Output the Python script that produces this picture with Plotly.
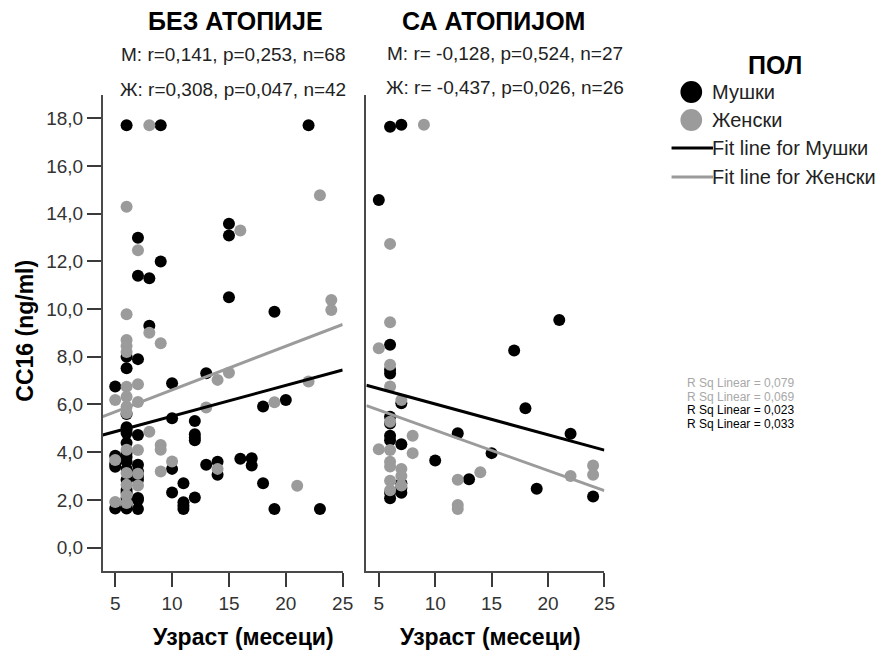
import numpy as np
import plotly.graph_objects as go

W, H = 885, 652

# ---- data: age (months) and CC16 (ng/ml) per group and panel ----
# panel 1: без атопије
no_atopy_m_age = [6, 9, 22, 15, 15, 7, 9, 7, 8, 15, 19, 8, 6, 6, 7, 5, 10, 13, 18, 20,
                  10, 12, 6, 6, 7, 12, 12, 6, 6, 6, 5, 5, 7, 7, 7, 10, 13, 14, 14, 16,
                  17, 17, 18, 11, 10, 12, 11, 11, 7, 7, 5, 19, 23, 6, 6, 6, 6, 6, 6,
                  6, 6, 7, 6, 7, 5, 12, 11, 6]
no_atopy_m_cc16 = [17.7, 17.7, 17.7, 13.57, 13.08, 12.99, 11.99, 11.39, 11.29, 10.49, 9.89,
                   9.30, 8.0, 7.52, 7.9, 6.75, 6.89, 7.31, 5.91, 6.19, 5.42, 5.31, 5.05,
                   4.8, 4.72, 4.75, 4.5, 4.39, 3.97, 3.6, 3.85, 3.39, 3.47, 3.2, 2.84,
                   3.30, 3.47, 3.6, 3.05, 3.72, 3.75, 3.44, 2.7, 2.7, 2.31, 2.1, 1.9,
                   1.62, 2.08, 1.62, 1.64, 1.62, 1.62, 1.64, 2.08, 2.42, 2.84, 5.6, 3.3,
                   4.95, 2.3, 3.0, 1.8, 2.0, 3.5, 4.6, 1.75, 3.8]
no_atopy_f_age = [8, 6, 23, 16, 7, 24, 24, 6, 8, 9, 6, 6, 6, 6, 6, 7, 14, 15, 22, 5,
                  7, 6, 6, 19, 13, 8, 9, 9, 7, 5, 6, 10, 9, 14, 21, 5, 6, 6, 6, 6, 7, 7]
no_atopy_f_cc16 = [17.7, 14.29, 14.77, 13.29, 12.46, 10.38, 9.96, 9.78, 9.01, 8.57, 8.7,
                   8.45, 8.2, 6.74, 6.32, 6.85, 7.03, 7.33, 6.96, 6.19, 6.1, 5.9, 5.64,
                   6.09, 5.87, 4.86, 4.3, 4.1, 4.09, 3.67, 4.1, 3.61, 3.19, 3.3, 2.59,
                   1.91, 1.87, 2.2, 2.63, 3.13, 3.1, 2.6]

# panel 2: са атопијом
atopy_m_age = [6, 7, 5, 21, 6, 17, 6, 7, 18, 6, 6, 22, 12, 7, 15, 10, 7, 13, 19, 24, 6,
               6, 6, 7, 6, 6, 7]
atopy_m_cc16 = [17.64, 17.72, 14.57, 9.54, 8.5, 8.26, 7.45, 6.05, 5.84, 5.49, 4.69, 4.77,
                4.79, 4.33, 3.96, 3.65, 2.5, 2.87, 2.47, 2.14, 2.07, 5.2, 2.3, 2.7, 4.5,
                7.3, 2.3]
atopy_f_age = [9, 6, 6, 5, 6, 6, 7, 6, 8, 5, 6, 8, 6, 6, 7, 7, 7, 14, 12, 6, 22, 24, 24,
               6, 12, 12]
atopy_f_cc16 = [17.72, 12.73, 9.45, 8.36, 7.66, 6.75, 6.19, 5.28, 4.69, 4.12, 4.09, 3.96,
                3.6, 3.4, 3.3, 3.0, 2.6, 3.16, 2.84, 2.8, 3.0, 3.44, 3.05, 2.4, 1.79, 1.62]

# linear fits (intercept, slope) for Мушки / Женски in each panel
fit_no_atopy_m = (4.22, 0.129)
fit_no_atopy_f = (4.78, 0.183)
fit_atopy_m = (7.31, -0.129)
fit_atopy_f = (6.61, -0.169)

panel_titles = ["БЕЗ АТОПИЈЕ", "СА АТОПИЈОМ"]
stats_m = ["M: r=0,141, p=0,253, n=68", "M: r= -0,128, p=0,524, n=27"]
stats_f = ["Ж: r=0,308, p=0,047, n=42", "Ж: r= -0,437, p=0,026, n=26"]
rsq_labels = ["R Sq Linear = 0,079", "R Sq Linear = 0,069",
              "R Sq Linear = 0,023", "R Sq Linear = 0,033"]
group_names = ["Мушки", "Женски"]

X_RANGE = [3.9, 25.0]
Y_RANGE = [-0.98, 18.97]
y_ticks = [0, 2, 4, 6, 8, 10, 12, 14, 16, 18]
x_ticks = [5, 10, 15, 20, 25]

BLACK = "#000000"
GRAY = "#9b9b9b"
FONT = "Liberation Sans"


def px(x):
    return x / W


def py(y):
    return 1 - y / H


fig = go.Figure()

panels = [
    ("x", "y", no_atopy_m_age, no_atopy_m_cc16, no_atopy_f_age, no_atopy_f_cc16,
     fit_no_atopy_m, fit_no_atopy_f),
    ("x2", "y2", atopy_m_age, atopy_m_cc16, atopy_f_age, atopy_f_cc16,
     fit_atopy_m, fit_atopy_f),
]

for xa, ya, m_age, m_val, f_age, f_val, fit_m, fit_f in panels:
    fig.add_trace(go.Scatter(x=m_age, y=m_val, mode="markers", xaxis=xa, yaxis=ya,
                             marker=dict(color=BLACK, size=12, line=dict(width=0)),
                             showlegend=False))
    fig.add_trace(go.Scatter(x=f_age, y=f_val, mode="markers", xaxis=xa, yaxis=ya,
                             marker=dict(color=GRAY, size=12, line=dict(width=0)),
                             showlegend=False))
    xs = np.array(X_RANGE)
    for (b0, b1), col in ((fit_f, GRAY), (fit_m, BLACK)):
        fig.add_trace(go.Scatter(x=xs, y=b0 + b1 * xs, mode="lines", xaxis=xa, yaxis=ya,
                                 line=dict(color=col, width=3), showlegend=False))

axis_common = dict(showline=True, linecolor="#4a4a4a", linewidth=1.5, showgrid=False,
                   zeroline=False, ticks="outside", ticklen=14, tickwidth=2,
                   tickcolor="#3a3a3a",
                   tickfont=dict(family=FONT, size=19, color="#333333"))

fig.update_layout(
    width=W, height=H,
    margin=dict(l=0, r=0, t=0, b=0),
    paper_bgcolor="white", plot_bgcolor="white",
    separators=",.",
    xaxis=dict(domain=[px(104), px(347)], range=X_RANGE, tickvals=x_ticks,
               anchor="y", **axis_common),
    xaxis2=dict(domain=[px(371), px(612)], range=X_RANGE, tickvals=x_ticks,
                anchor="y2", **axis_common),
    yaxis=dict(domain=[py(571), py(95)], range=Y_RANGE, tickvals=y_ticks,
               tickformat=".1f", anchor="x", **axis_common),
    yaxis2=dict(domain=[py(571), py(95)], range=Y_RANGE, anchor="x2", showline=True,
                linecolor="#4a4a4a", linewidth=1.5, showgrid=False, zeroline=False,
                showticklabels=False, ticks=""),
)

ann = []
bold = dict(family=FONT, size=23, color="black", weight="bold")
title_font = dict(family=FONT, size=25, color="black", weight="bold")
reg = dict(family=FONT, size=19, color="#222222")

# panel titles and statistics
for cx, title in zip([238, 500], panel_titles):
    ann.append(dict(x=px(cx), y=py(21), text=title, font=title_font))
for cx, cy, s in [(236, 55, stats_m[0]), (236, 90, stats_f[0]),
                  (511, 54, stats_m[1]), (511, 87, stats_f[1])]:
    ann.append(dict(x=px(cx), y=py(cy), text=s, font=reg))

# axis titles
ann.append(dict(x=px(25), y=py(331), text="CC16 (ng/ml)", font=bold, textangle=-90))
for cx in [247, 497]:
    ann.append(dict(x=px(cx), y=py(637), text="Узраст (месеци)", font=bold))

# legend
ann.append(dict(x=px(785), y=py(65), text="ПОЛ", font=dict(family=FONT, size=25,
                                                          color="black", weight="bold")))
leg_font = dict(family=FONT, size=20, color="#222222")
for ly, label in [(92, group_names[0]), (120, group_names[1]),
                  (148, "Fit line for " + group_names[0]),
                  (177, "Fit line for " + group_names[1])]:
    ann.append(dict(x=px(719), y=py(ly), text=label, font=leg_font, xanchor="left"))

shapes = [
    dict(type="circle", xref="paper", yref="paper", x0=px(689), x1=px(711),
         y0=py(103), y1=py(81), fillcolor=BLACK, line=dict(width=0)),
    dict(type="circle", xref="paper", yref="paper", x0=px(689), x1=px(711),
         y0=py(131), y1=py(109), fillcolor=GRAY, line=dict(width=0)),
    dict(type="line", xref="paper", yref="paper", x0=px(680), x1=px(722),
         y0=py(148), y1=py(148), line=dict(color=BLACK, width=3)),
    dict(type="line", xref="paper", yref="paper", x0=px(680), x1=px(722),
         y0=py(177), y1=py(177), line=dict(color=GRAY, width=3)),
]

# R² labels
for ly, txt, col in zip([383, 396.5, 410, 423.5], rsq_labels,
                        ["#a8a8a8", "#a8a8a8", "#000000", "#000000"]):
    ann.append(dict(x=px(695), y=py(ly), text=txt, xanchor="left", borderpad=0,
                    font=dict(family=FONT, size=12, color=col)))

for a in ann:
    a.setdefault("xref", "paper")
    a.setdefault("yref", "paper")
    a.setdefault("showarrow", False)
    a.setdefault("xanchor", "center")
    a.setdefault("yanchor", "middle")

fig.update_layout(annotations=ann, shapes=shapes)
fig.write_html("out.html")
